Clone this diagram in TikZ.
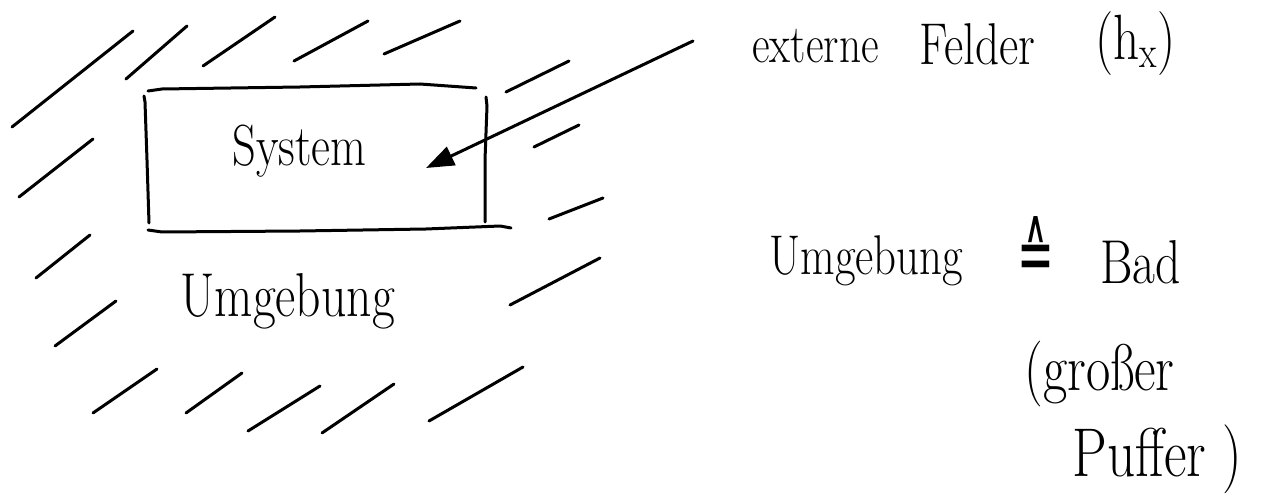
\documentclass[tikz,border=0pt]{standalone}
\usepackage{fontspec}
\usepackage{graphicx}
\newfontfamily\symfont{DejaVu Sans}
\newcommand{\tallhand}[1]{\scalebox{0.8}[1]{#1}}
\usetikzlibrary{arrows.meta}
\tikzset{
  pen/.style={line width=1.5pt, line cap=round, line join=round},
  hatch/.style={pen},
  hw/.style={font=\fontsize{#1}{#1}\selectfont, inner sep=0pt, anchor=base west},
  fieldarrow/.style={pen, -{Triangle[length=14pt,width=10pt]}}
}
\begin{document}
\begin{tikzpicture}[x=0.5pt,y=-0.5pt]
\useasboundingbox (0,0) rectangle (1279,502);
% hatching (environment)
\draw[hatch] (12,127) -- (133,31);
\draw[hatch] (126,79) -- (187,26);
\draw[hatch] (203,66) -- (275,17);
\draw[hatch] (294,61) -- (368,21);
\draw[hatch] (384,54) -- (460,21);
\draw[hatch] (506,92) -- (569,61);
\draw[hatch] (534,147) -- (579,125);
\draw[hatch] (549,219) -- (603,198);
\draw[hatch] (510,305) -- (600,258);
\draw[hatch] (429,421) -- (523,367);
\draw[hatch] (19,197) -- (93,139);
\draw[hatch] (36,278) -- (90,235);
\draw[hatch] (55,346) -- (116,301);
\draw[hatch] (93,413) -- (157,369);
\draw[hatch] (186,413) -- (242,373);
\draw[hatch] (248,431) -- (320,386);
\draw[hatch] (322,433) -- (394,384);
% system box (hand drawn)
\draw[pen] (148,91) -- (162,89) -- (300,87) -- (420,84) -- (476,88);
\draw[pen] (144,96) -- (145,102) -- (147,160) -- (149,223);
\draw[pen] (486,97) -- (487,106) -- (485,160) -- (485,222);
\draw[pen] (148,230) -- (162,232) -- (300,231) -- (426,229) -- (500,226) -- (511,228);
% texts
\node[hw=29] (sys) at (232,166) {\tallhand{System}};
\node[hw=31] (umg) at (180,316) {\tallhand{Umgebung}};
\node[hw=27] (ext) at (752,63) {\tallhand{externe}};
\node[hw=29.5] (fel) at (919,65) {\tallhand{Felder}};
\node[hw=32] (hx) at (1095,60) {\tallhand{(h\textsubscript{x})}};
\node[hw=28] (umg2) at (769,274) {\tallhand{Umgebung}};
\node[hw=40] (eq) at (1017,282) {\scalebox{0.55}[1]{\symfont ≙}};
\node[hw=31] (bad) at (1100,284) {\tallhand{Bad}};
\node[hw=33] (gross) at (1024,390) {\tallhand{(großer}};
\node[hw=34.5] (puf) at (1072,476) {\tallhand{Puffer )}};
% arrow: external fields act on the system
\coordinate (fsrc) at (693,41);
\coordinate (ftip) at (426,168);
\draw[fieldarrow] (fsrc) -- (ftip);
\end{tikzpicture}
\end{document}
